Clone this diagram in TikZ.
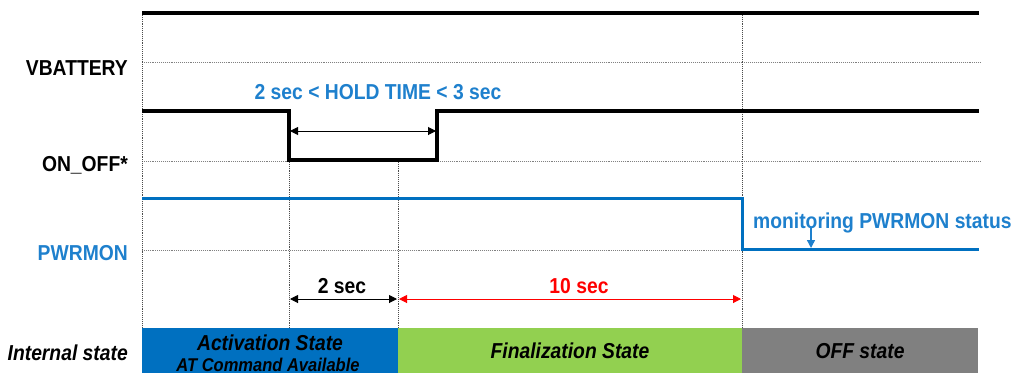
\documentclass[tikz,border=0pt]{standalone}
\usepackage{fontspec}
\usepackage{graphicx}
\setmainfont{Liberation Sans}
\usetikzlibrary{arrows.meta}
\definecolor{lblue}{RGB}{0,112,192}
\definecolor{tblue}{RGB}{30,128,205}
\definecolor{fgreen}{RGB}{146,208,80}
\definecolor{offgray}{RGB}{128,128,128}
\newcommand{\vs}[1]{\scalebox{1}[1.12]{#1}}
\begin{document}
\begin{tikzpicture}[x=1pt,y=-1pt,
  sigblack/.style={line width=3.2pt, black},
  sigblue/.style={line width=3pt, lblue},
  grid/.style={densely dotted, gray, line width=0.9pt},
  vgrid/.style={densely dotted, black!70, line width=0.9pt},
  lbl/.style={font=\fontsize{19.3}{22}\selectfont\bfseries, inner sep=0pt, anchor=base east},
  ctext/.style={font=\fontsize{19.3}{22}\selectfont\bfseries, inner sep=0pt, anchor=base},
  stext/.style={font=\fontsize{19.3}{22}\selectfont\bfseries\itshape, inner sep=0pt, anchor=base},
  dimarrow/.style={{Triangle[length=8pt,width=8pt]}-{Triangle[length=8pt,width=8pt]}, line width=1pt}
]
\useasboundingbox (0,0) rectangle (1019,373);

% state boxes
\fill[lblue] (142,328) rectangle (398,373);
\fill[fgreen] (398,328) rectangle (742,373);
\fill[offgray] (742,328) rectangle (978,373);

% horizontal dotted grid
\draw[grid] (142,62) -- (980,62);
\draw[grid] (142,161) -- (980,161);
\draw[grid] (142,250) -- (742,250);

% vertical dotted grid
\draw[vgrid] (142,13) -- (142,328);
\draw[vgrid] (289,160) -- (289,328);
\draw[vgrid] (398,160) -- (398,328);
\draw[vgrid] (742,13) -- (742,328);

% signals
\draw[sigblack] (142,13) -- (979,13);
\draw[sigblack] (142,111) -- (289,111) -- (289,160) -- (437,160) -- (437,111) -- (979,111);
\draw[sigblue] (142,198) -- (742,198) -- (742,249) -- (979,249);

% coordinates for dimension arrows
\coordinate (h1) at (290,131);
\coordinate (h2) at (436,131);
\coordinate (a1) at (290,299);
\coordinate (a2) at (397,299);
\coordinate (b1) at (399,299);
\coordinate (b2) at (741,299);
\coordinate (m1) at (811,228);
\coordinate (m2) at (811,248);

\draw[dimarrow, black] (h1) -- (h2);
\draw[dimarrow, black] (a1) -- (a2);
\draw[dimarrow, red] (b1) -- (b2);
\draw[line width=1.4pt, tblue, -{Triangle[length=8pt,width=8pt]}] (m1) -- (m2);

% labels
\node[lbl] (vbat) at (128,75) {\vs{VBATTERY}};
\node[lbl] (onoff) at (128,171) {\vs{ON\_OFF*}};
\node[lbl, text=tblue] (pwrmon) at (128,260) {\vs{PWRMON}};
\node[lbl, font=\fontsize{19.3}{22}\selectfont\bfseries\itshape] (internal) at (128,360) {\vs{Internal state}};

\node[ctext, text=tblue] (hold) at (378,99) {\vs{2 sec < HOLD TIME < 3 sec}};
\node[ctext] (twosec) at (342,293) {\vs{2 sec}};
\node[ctext, text=red] (tensec) at (579,293) {\vs{10 sec}};
\node[ctext, text=tblue, anchor=base west] (monitor) at (753,228) {\vs{monitoring PWRMON status}};

\node[stext] (act) at (270,350) {\vs{Activation State}};
\node[stext, font=\fontsize{16.5}{19}\selectfont\bfseries\itshape] (atcmd) at (268,371) {\vs{AT Command Available}};
\node[stext] (fin) at (570,358) {\vs{Finalization State}};
\node[stext] (off) at (860,358) {\vs{OFF state}};
\end{tikzpicture}
\end{document}
